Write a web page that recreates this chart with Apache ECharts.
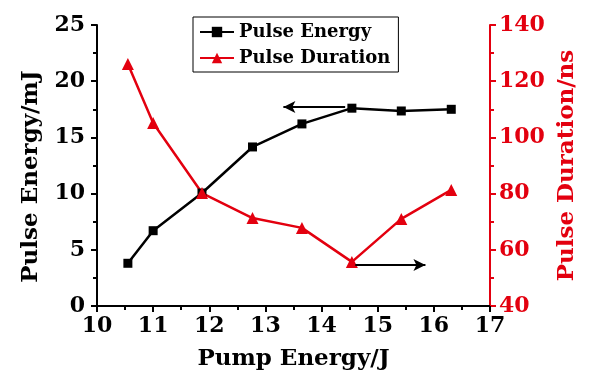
<!DOCTYPE html>
<html><head><meta charset="utf-8">
<script src="https://cdn.jsdelivr.net/npm/echarts@6/dist/echarts.min.js"></script>
<style>html,body{margin:0;padding:0;background:#fff}#c{width:600px;height:384px}</style>
</head><body><div id="c"></div>
<script>
const pumpEnergy = [10.55, 11.0, 11.87, 12.77, 13.65, 14.54, 15.42, 16.31];
const pulseEnergy = [3.8, 6.7, 10.05, 14.15, 16.2, 17.6, 17.35, 17.5];
const pulseDuration = [126.1, 105.1, 80.2, 71.3, 67.8, 55.7, 71.0, 81.3];
const arrowLeft = [[14.42, 17.7], [13.32, 17.7]];
const arrowRight = [[14.6, 54.6], [15.85, 54.6]];

const RED = '#e3000f';
const FONT = 'DejaVu Serif';
const chart = echarts.init(document.getElementById('c'));
const pairs = (xs, ys) => xs.map((x, i) => [x, ys[i]]);
chart.setOption({
  animation: false,
  grid: {left: 97, right: 110, top: 25, bottom: 78},
  legend: {
    orient: 'vertical', left: 193, top: 17, itemGap: 8, itemWidth: 34, itemHeight: 13,
    borderColor: '#000', borderWidth: 1, padding: [6, 8, 5, 6],
    textStyle: {fontFamily: FONT, fontWeight: 'bold', fontSize: 18, color: '#000'},
    data: ['Pulse Energy', 'Pulse Duration']
  },
  xAxis: {
    type: 'value', min: 10, max: 17, interval: 1,
    name: 'Pump Energy/J', nameLocation: 'middle', nameGap: 42,
    nameTextStyle: {fontFamily: FONT, fontWeight: 'bold', fontSize: 23, color: '#000'},
    axisLine: {show: true, lineStyle: {color: '#000', width: 2}},
    axisTick: {show: true, length: 6, lineStyle: {width: 2}},
    minorTick: {show: true, splitNumber: 2, length: 4, lineStyle: {color: '#000', width: 2}},
    axisLabel: {fontFamily: FONT, fontWeight: 'bold', fontSize: 22, color: '#000', margin: 9},
    splitLine: {show: false}
  },
  yAxis: [{
    type: 'value', min: 0, max: 25, interval: 5, position: 'left',
    name: 'Pulse Energy/mJ', nameLocation: 'middle', nameGap: 54,
    nameTextStyle: {fontFamily: FONT, fontWeight: 'bold', fontSize: 23, color: '#000', padding: [0, 22, 0, 0]},
    axisLine: {show: true, lineStyle: {color: '#000', width: 2}},
    axisTick: {show: true, length: 6, lineStyle: {width: 2}},
    minorTick: {show: true, splitNumber: 2, length: 4, lineStyle: {color: '#000', width: 2}},
    axisLabel: {fontFamily: FONT, fontWeight: 'bold', fontSize: 22, color: '#000', margin: 12},
    splitLine: {show: false}
  }, {
    type: 'value', min: 40, max: 140, interval: 20, position: 'right',
    name: 'Pulse Duration/ns', nameLocation: 'middle', nameGap: 62, nameRotate: 90,
    nameTextStyle: {fontFamily: FONT, fontWeight: 'bold', fontSize: 23, color: RED},
    axisLine: {show: true, lineStyle: {color: RED, width: 2}},
    axisTick: {show: true, length: 6, lineStyle: {width: 2}},
    minorTick: {show: true, splitNumber: 2, length: 4, lineStyle: {color: RED, width: 2}},
    axisLabel: {fontFamily: FONT, fontWeight: 'bold', fontSize: 22, color: RED, margin: 9},
    splitLine: {show: false}
  }],
  series: [{
    name: 'Pulse Energy', type: 'line', yAxisIndex: 0,
    data: pairs(pumpEnergy, pulseEnergy),
    symbol: 'rect', symbolSize: 9,
    itemStyle: {color: '#000'}, lineStyle: {color: '#000', width: 2.5},
    markLine: {
      silent: true, symbol: ['none', 'arrow'], symbolSize: [9, 12],
      label: {show: false},
      lineStyle: {color: '#000', width: 2, type: 'solid'},
      data: [[{coord: arrowLeft[0]}, {coord: arrowLeft[1]}]]
    }
  }, {
    name: 'Pulse Duration', type: 'line', yAxisIndex: 1,
    data: pairs(pumpEnergy, pulseDuration),
    symbol: 'triangle', symbolSize: 12,
    itemStyle: {color: RED}, lineStyle: {color: RED, width: 2.5},
    markLine: {
      silent: true, symbol: ['none', 'arrow'], symbolSize: [9, 12],
      label: {show: false},
      lineStyle: {color: '#000', width: 2, type: 'solid'},
      data: [[{coord: arrowRight[0]}, {coord: arrowRight[1]}]]
    }
  }]
});
</script></body></html>
